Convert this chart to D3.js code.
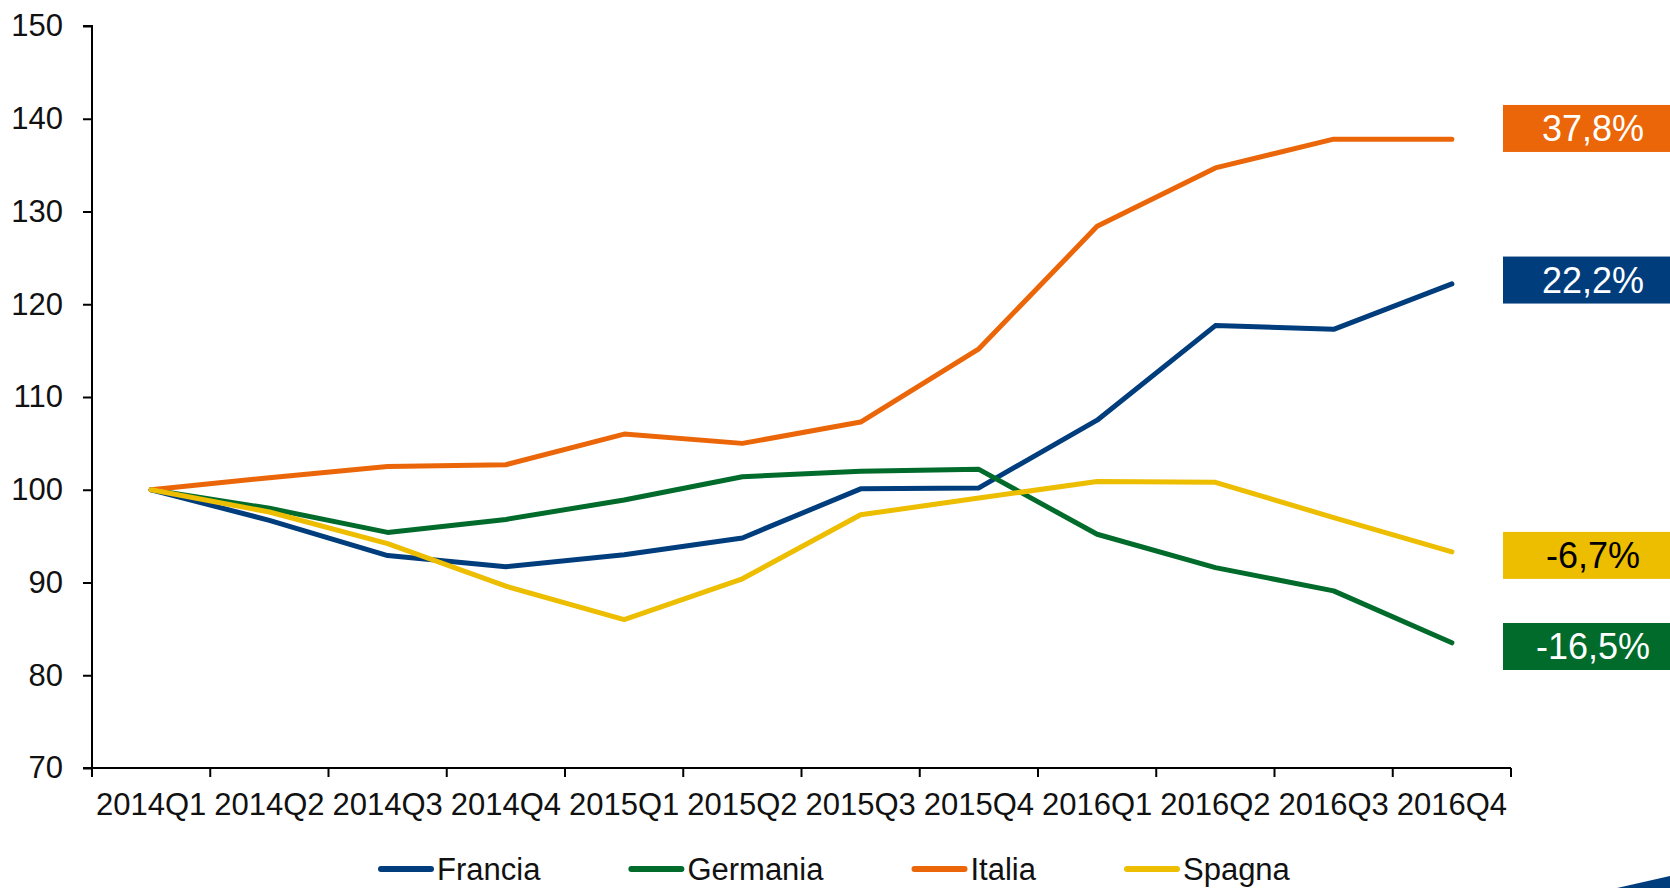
<!DOCTYPE html>
<html>
<head>
<meta charset="utf-8">
<script src="https://cdn.jsdelivr.net/npm/d3@7/dist/d3.min.js"></script>
<style>
  html, body { margin: 0; padding: 0; background: #ffffff; }
  svg { display: block; font-family: "Liberation Sans", Arial, sans-serif; }
</style>
</head>
<body>
<svg id="chart" width="1670" height="888"></svg>
<script>
// ---- data ----
const quarters = ["2014Q1","2014Q2","2014Q3","2014Q4","2015Q1","2015Q2","2015Q3","2015Q4","2016Q1","2016Q2","2016Q3","2016Q4"];
const francia  = [100, 96.7, 92.9, 91.7, 93.0, 94.8, 100.1, 100.2, 107.5, 117.7, 117.3, 122.2];
const germania = [100, 98.0, 95.4, 96.8, 98.9, 101.4, 102.0, 102.2, 95.2, 91.6, 89.1, 83.5];
const italia   = [100, 101.3, 102.5, 102.7, 106.0, 105.0, 107.3, 115.2, 128.4, 134.7, 137.8, 137.8];
const spagna   = [100, 97.6, 94.2, 89.6, 86.0, 90.4, 97.3, 99.1, 100.9, 100.8, 97.0, 93.3];
const seriesNames = ["Francia", "Germania", "Italia", "Spagna"];
const changeLabels = ["22,2%", "-16,5%", "37,8%", "-6,7%"];
const yTicks = [70, 80, 90, 100, 110, 120, 130, 140, 150];

// ---- styles ----
const colors = ["#003d7c", "#006b2b", "#eb6608", "#edbd00"];
const labelTextColors = ["#ffffff", "#ffffff", "#ffffff", "#000000"];
const labelNudge = [-3.8, 3.7, -10.7, 3.5];
const fontSize = 31;

const svg = d3.select("#chart");
const mLeft = 92, mRight = 1511, mTop = 26, mBottom = 768;

const x = d3.scaleBand().domain(quarters).range([mLeft, mRight]).padding(0);
const y = d3.scaleLinear().domain([70, 150]).range([mBottom, mTop]);

const seriesData = [francia, germania, italia, spagna];

// axes
const yAxis = d3.axisLeft(y).tickValues(yTicks).tickSize(9).tickPadding(20).tickFormat(d3.format("d"));
const gy = svg.append("g").attr("transform", `translate(${mLeft},0)`).call(yAxis);
gy.select(".domain").attr("stroke", "#000").attr("stroke-width", 2).attr("d", `M-9,${mBottom}H0V${mTop}H-9`);
gy.selectAll(".tick line").attr("stroke", "#000").attr("stroke-width", 2);
gy.selectAll(".tick text").attr("font-size", fontSize).attr("fill", "#111").attr("font-family", "Liberation Sans, Arial, sans-serif");

const xAxis = d3.axisBottom(x).tickSize(0).tickPadding(0);
const gx = svg.append("g").attr("transform", `translate(0,${mBottom})`).call(xAxis);
gx.select(".domain").attr("stroke", "#000").attr("stroke-width", 2).attr("d", `M${mLeft},0H${mRight}`);
gx.selectAll(".tick text").attr("font-size", fontSize).attr("fill", "#111")
  .attr("font-family", "Liberation Sans, Arial, sans-serif")
  .attr("dy", null).attr("y", 47);
// boundary ticks
const boundaries = quarters.map(q => x(q)).concat([mRight]);
gx.selectAll("line.bound").data(boundaries).enter().append("line")
  .attr("class", "bound")
  .attr("x1", d => d).attr("x2", d => d).attr("y1", 0).attr("y2", 9)
  .attr("stroke", "#000").attr("stroke-width", 2);

// lines
const line = d3.line()
  .x((d, i) => x(quarters[i]) + x.bandwidth() / 2)
  .y(d => y(d));

svg.append("g").selectAll("path.series").data(seriesData).enter().append("path")
  .attr("class", "series")
  .attr("d", d => line(d))
  .attr("fill", "none")
  .attr("stroke", (d, i) => colors[i])
  .attr("stroke-width", 5)
  .attr("stroke-linejoin", "round")
  .attr("stroke-linecap", "round");

// end labels
const boxX = 1503, boxW = 180, boxH = 47, labelCx = 1593;
const lg = svg.append("g");
seriesData.forEach((s, i) => {
  const cy = y(s[s.length - 1]) + labelNudge[i];
  lg.append("rect").attr("x", boxX).attr("y", cy - boxH / 2).attr("width", boxW).attr("height", boxH)
    .attr("fill", colors[i]);
  lg.append("text").attr("x", labelCx).attr("y", cy + 13).attr("text-anchor", "middle")
    .attr("font-size", 36).attr("fill", labelTextColors[i]).text(changeLabels[i]);
});

// legend
const legend = svg.append("g");
let lx = 378;
const legY = 869;
seriesNames.forEach((name, i) => {
  legend.append("line").attr("x1", lx + 3).attr("x2", lx + 53).attr("y1", legY).attr("y2", legY)
    .attr("stroke", colors[i]).attr("stroke-width", 6).attr("stroke-linecap", "round");
  const t = legend.append("text").attr("x", lx + 59).attr("y", legY + 11)
    .attr("font-size", fontSize).attr("fill", "#111").text(name);
  const w = t.node().getComputedTextLength();
  lx = lx + 59 + w + 88;
});

// decorative corner wedge
svg.append("path").attr("d", "M1617,888L1670,876L1670,888Z").attr("fill", "#003d7c");
</script>
</body>
</html>
